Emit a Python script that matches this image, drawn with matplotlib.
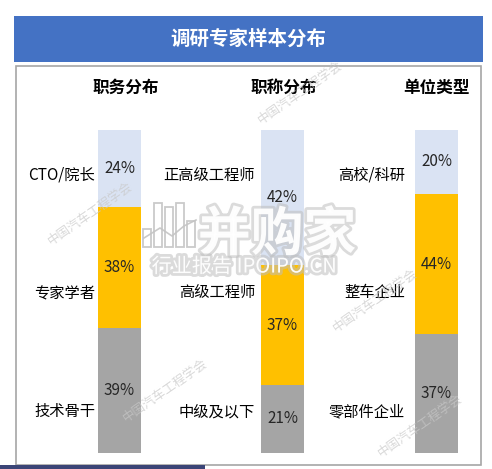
import matplotlib
matplotlib.use("Agg")
import matplotlib.pyplot as plt
from matplotlib.patches import Rectangle
import matplotlib.patheffects as pe

plt.rcParams['font.family'] = ['Noto Sans CJK SC', 'DejaVu Sans']

# ---- data ----
title = "调研专家样本分布"
panel_titles = ["职务分布", "职称分布", "单位类型"]
# categories listed top -> bottom
panel_categories = [
    ["CTO/院长", "专家学者", "技术骨干"],
    ["正高级工程师", "高级工程师", "中级及以下"],
    ["高校/科研", "整车企业", "零部件企业"],
]
panel_values = [
    [24, 38, 39],
    [42, 37, 21],
    [20, 44, 37],
]
seg_colors = ["#DAE3F3", "#FFC000", "#A5A5A5"]  # top, middle, bottom

W, H = 492, 469
fig = plt.figure(figsize=(W / 100, H / 100), dpi=100)

# background axes in pixel coords
bg = fig.add_axes([0, 0, 1, 1])
bg.set_xlim(0, W)
bg.set_ylim(H, 0)
bg.axis('off')

# title bar
bg.add_patch(Rectangle((14, 16), 469, 46, facecolor="#4472C4", edgecolor="none"))
bg.text(248, 39.5, title, color="white", fontsize=14, fontweight="bold",
        ha="center", va="center")
# frame
bg.add_patch(Rectangle((15.5, 66.5), 465.5, 398.5, facecolor="none",
                       edgecolor="#A6A6A6", linewidth=1.2))
# bottom navy strip
bg.add_patch(Rectangle((0, 465.5), 205, 4, facecolor="#3B4577", edgecolor="none"))

# panels layout (pixel)
bar_lefts = [98, 261, 415]
bar_w = 43
label_gaps = [3, 6, 10]
title_x = [125.5, 284, 436]
top_px, bot_px = 130, 452.5
cat_y = [86.0, 49.5, 12.7]

for i in range(3):
    ax = fig.add_axes([bar_lefts[i] / W, (H - bot_px) / H, bar_w / W,
                       (bot_px - top_px) / H])
    ax.set_xlim(-0.5, 0.5)
    ax.set_ylim(0, 100)
    ax.axis('off')
    vals = panel_values[i]
    tot = sum(vals)
    norm = [v / tot * 100 for v in vals]
    # stack from bottom: last category at bottom
    bottom = 0
    for j in [2, 1, 0]:
        ax.bar(0, norm[j], width=1.0, bottom=bottom, color=seg_colors[j],
               edgecolor="none")
        ax.text(0, bottom + norm[j] / 2, f"{vals[j]}%", ha="center", va="center",
                fontsize=11, color="#262626", zorder=3)
        bottom += norm[j]
    for j, cat in enumerate(panel_categories[i]):
        ax.annotate(cat, xy=(-0.5, cat_y[j]), xytext=(-label_gaps[i], 0),
                    textcoords="offset pixels", ha="right", va="center",
                    fontsize=11, color="#000000", annotation_clip=False)
    bg.text(title_x[i], 88, panel_titles[i], fontsize=12, fontweight="bold",
            ha="center", va="center", color="#000000")

# overlay axes for watermarks (drawn on top)
ov = fig.add_axes([0, 0, 1, 1])
ov.set_xlim(0, W)
ov.set_ylim(H, 0)
ov.axis('off')
ov.patch.set_alpha(0)

wm = "中国汽车工程学会"
for (x, y) in [(300, 92), (90, 213), (375, 300), (165, 390), (420, 425)]:
    ov.text(x, y, wm, fontsize=9, color="#C8C8C8", rotation=35, ha="center",
            va="center", alpha=0.7)

glow = [pe.withStroke(linewidth=4, foreground="#BEBEBE", alpha=0.55)]
# logo icon: outlined bars
for (bx, bh) in [(143, 18), (154, 44), (165, 40), (176, 44), (187, 26)]:
    ov.add_patch(Rectangle((bx, 247 - bh), 8, bh, facecolor="white",
                           edgecolor="#C4C4C4", linewidth=1.3, alpha=0.9))
ov.plot([144, 160, 172, 184, 196], [238, 228, 236, 226, 220], color="#C4C4C4",
        linewidth=1.2, alpha=0.9)
ov.text(277, 235, "并购家", fontsize=38, color="white", fontweight="bold",
        ha="center", va="center", path_effects=glow, alpha=0.95)
ov.text(244, 267, "行业报告 IPOIPO.CN", fontsize=14.5, color="white",
        ha="center", va="center", path_effects=glow, alpha=0.95)

fig.savefig("out.png", dpi=100)
